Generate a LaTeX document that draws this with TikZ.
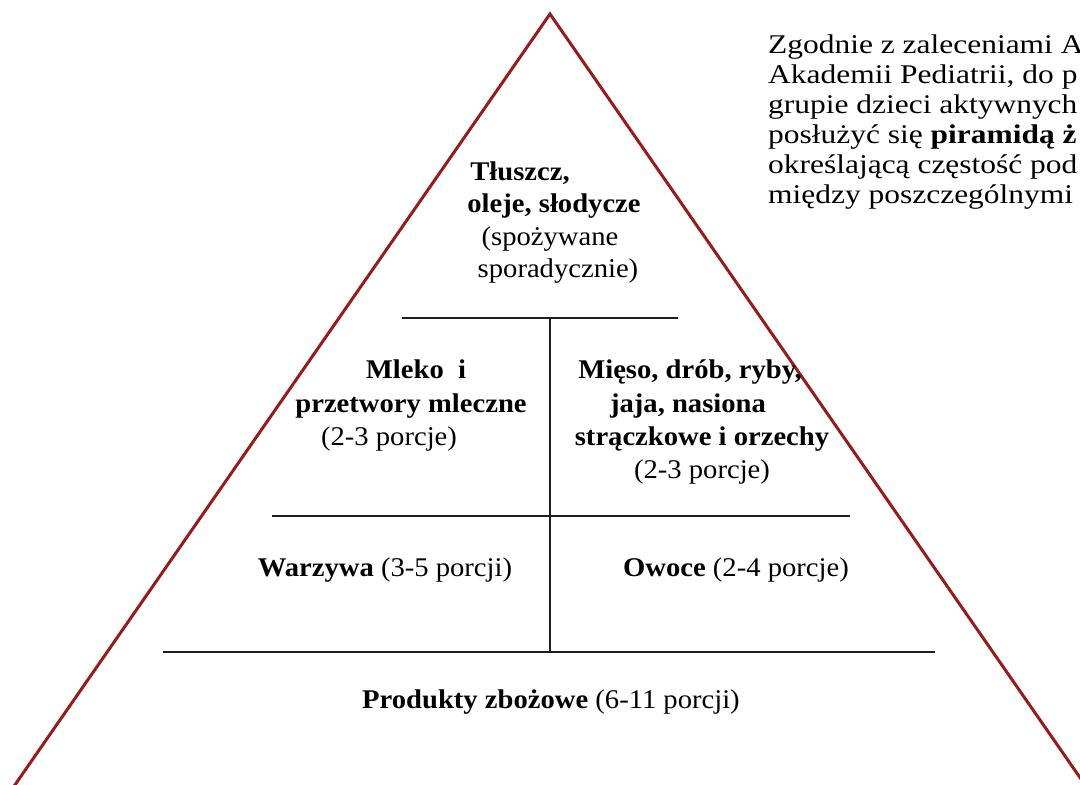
\documentclass[tikz,border=0pt]{standalone}
\usepackage{fontspec}
\setmainfont{Liberation Serif}
\newfontfamily\pyrfont{Liberation Serif}[FakeStretch=1.06]
\newfontfamily\sidefont{Liberation Serif}[FakeStretch=1.165]
\definecolor{pyrred}{RGB}{150,28,28}
\definecolor{divline}{RGB}{30,30,30}
\tikzset{
  pyrtext/.style={anchor=base, inner sep=0pt, font=\pyrfont\fontsize{27}{33}\selectfont},
  sidetext/.style={anchor=base west, inner sep=0pt, font=\sidefont\fontsize{27}{30}\selectfont},
  edge/.style={draw=pyrred, line width=3pt},
  divider/.style={draw=divline, line width=2.4pt}
}
\begin{document}
\begin{tikzpicture}[x=1pt,y=-1pt]
\useasboundingbox (0,0) rectangle (1080,785);
\begin{scope}
\clip (0,0) rectangle (1080,785);
% triangle
\coordinate (apex) at (550,14);
\coordinate (bl) at (10,792);
\coordinate (br) at (1090,792);
\draw[edge, line join=miter] (bl) -- (apex) -- (br);
% dividers
\coordinate (d1l) at (402,318); \coordinate (d1r) at (678,318);
\coordinate (d2l) at (272,516); \coordinate (d2r) at (850,516);
\coordinate (d3l) at (163,652); \coordinate (d3r) at (935,652);
\coordinate (vt) at (550,318); \coordinate (vb) at (550,652);
\draw[divider] (d1l) -- (d1r);
\draw[divider] (d2l) -- (d2r);
\draw[divider] (d3l) -- (d3r);
\draw[divider] (vt) -- (vb);
% top block
\node[pyrtext] (t1) at (520,180) {\textbf{Tłuszcz,}};
\node[pyrtext] (t2) at (554,212) {\textbf{oleje, słodycze}};
\node[pyrtext] (t3) at (550,245) {(spożywane};
\node[pyrtext] (t4) at (558,277) {sporadycznie)};
% middle left
\node[pyrtext] (ml1) at (416,378) {\textbf{Mleko\ \ i}};
\node[pyrtext] (ml2) at (411,412) {\textbf{przetwory mleczne}};
\node[pyrtext] (ml3) at (389,445) {(2-3 porcje)};
% middle right
\node[pyrtext] (mr1) at (690,378) {\textbf{Mięso, drób, ryby,}};
\node[pyrtext] (mr2) at (688,412) {\textbf{jaja, nasiona}};
\node[pyrtext] (mr3) at (702,445) {\textbf{strączkowe i orzechy}};
\node[pyrtext] (mr4) at (702,478) {(2-3 porcje)};
% lower row
\node[pyrtext] (war) at (385,576) {\textbf{Warzywa} (3-5 porcji)};
\node[pyrtext] (owo) at (736,576) {\textbf{Owoce} (2-4 porcje)};
% base
\node[pyrtext] (zbo) at (551,708) {\textbf{Produkty zbożowe} (6-11 porcji)};
% side text
\node[sidetext] (s1) at (768,53) {Zgodnie z zaleceniami A};
\node[sidetext] (s2) at (768,83) {Akademii Pediatrii, do p};
\node[sidetext] (s3) at (768,113) {grupie dzieci aktywnych};
\node[sidetext] (s4) at (768,143) {posłużyć się \textbf{piramidą ż}};
\node[sidetext] (s5) at (768,173) {określającą częstość pod};
\node[sidetext] (s6) at (768,203) {między poszczególnymi};
\end{scope}
\end{tikzpicture}
\end{document}
